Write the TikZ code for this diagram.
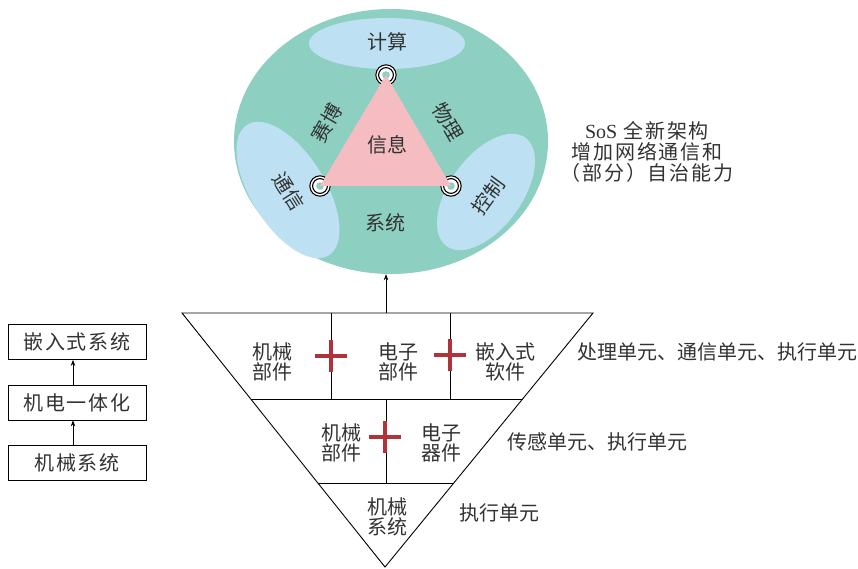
\documentclass[tikz,border=0pt]{standalone}
\usepackage{fontspec}
\setmainfont{Noto Sans CJK SC}
\newfontfamily\latinserif{Liberation Serif}
\usetikzlibrary{arrows.meta,calc,shapes.geometric}
\definecolor{tealA}{RGB}{141,208,194}
\definecolor{lblue}{RGB}{189,225,243}
\definecolor{pinkA}{RGB}{245,188,193}
\definecolor{crossred}{RGB}{176,50,58}
\definecolor{txt}{RGB}{50,50,50}
\tikzset{
  lbl/.style={font=\fontsize{20}{20.5}\selectfont, text=txt, inner sep=0pt, align=center},
  rlbl/.style={lbl, anchor=west},
  boxA/.style={draw, line width=0.8pt, minimum width=138pt, minimum height=35pt, font=\fontsize{20}{20.5}\selectfont\addfontfeature{LetterSpace=8}, text=txt, inner sep=0pt},
  arr/.style={line width=0.7pt, -{Stealth[length=6pt,width=4.5pt]}},
  edge/.style={line width=0.9pt},
  crossbar/.style={crossred, line width=4pt},
  ring/.style={line width=1.1pt}
}
\newcommand{\redcross}[1]{\draw[crossbar] ($(#1)+(-16,0)$) -- ($(#1)+(16,0)$) ($(#1)+(0,-16)$) -- ($(#1)+(0,16)$);}
\newcommand{\vmarker}[1]{%
  \fill[white] (#1) circle (11pt);
  \draw[ring] (#1) circle (10.2pt);
  \draw[ring] (#1) circle (7.4pt);
  \fill[tealA] (#1) circle (3.8pt);}
\begin{document}
\begin{tikzpicture}[x=1pt,y=-1pt]
\useasboundingbox (0,0) rectangle (858,569);
% ---- big ellipse ----
\node[ellipse, fill=tealA, minimum width=314pt, minimum height=265pt, inner sep=0pt] (sys) at (391,141.5) {};
\node[ellipse, fill=lblue, minimum width=156pt, minimum height=51pt, inner sep=0pt] (calcE) at (387,43.5) {};
\node[ellipse, fill=lblue, minimum width=74pt, minimum height=154pt, inner sep=0pt, rotate=32] (commE) at (288,190) {};
\node[ellipse, fill=lblue, minimum width=72pt, minimum height=134pt, inner sep=0pt, rotate=-36] (ctrlE) at (486,192) {};
% vertices
\coordinate (vt) at (386,75);
\coordinate (vl) at (320,186);
\coordinate (vr) at (451,186);
\vmarker{vt}
\vmarker{vl}
\vmarker{vr}
\fill[pinkA] (vt) -- (vl) -- (vr) -- cycle;
% labels in ellipse
\node[lbl] (tcalc) at (387,42) {计算};
\node[lbl] (tinfo) at (387,145) {信息};
\node[lbl] (tsys) at (385,223) {系统};
\node[lbl, rotate=60] (tcyber) at (327,123) {赛博};
\node[lbl, rotate=-60] (tphys) at (448,122) {物理};
\node[lbl, rotate=-58] (tcomm) at (289,191) {通信};
\node[lbl, rotate=54] (tctrl) at (488,196) {控制};
% SoS label
\node[lbl, font=\fontsize{20}{21}\selectfont\addfontfeature{LetterSpace=9}] (sos) at (647,152) {{\latinserif SoS} 全新架构\\增加网络通信和\\（部分）自治能力};
% ---- inverted triangle ----
\coordinate (T1) at (182,313);
\coordinate (T2) at (593,313);
\coordinate (T3) at (385,567);
\coordinate (invtop) at (386,313);
\coordinate (L2a) at ($(T1)!0.3386!(T3)$);
\coordinate (L2b) at ($(T2)!0.3386!(T3)$);
\coordinate (L3a) at ($(T1)!0.6705!(T3)$);
\coordinate (L3b) at ($(T2)!0.6705!(T3)$);
\draw[edge, line join=miter] (T1) -- (T2) -- (T3) -- cycle;
\draw[edge] (L2a) -- (L2b);
\draw[edge] (L3a) -- (L3b);
\draw[edge] (331,313) -- (331,399);
\draw[edge] (450,313) -- (450,399);
\draw[edge] (386,399) -- (386,483);
\redcross{331,356}
\redcross{450,355}
\redcross{385,437}
\node[lbl] (a1) at (272,362) {机械\\部件};
\node[lbl] (a2) at (398,362) {电子\\部件};
\node[lbl] (a3) at (505,362) {嵌入式\\软件};
\node[lbl] (b1) at (341,443) {机械\\部件};
\node[lbl] (b2) at (441,443) {电子\\器件};
\node[lbl] (c1) at (387,517) {机械\\系统};
\node[rlbl] (r1) at (577,352) {处理单元、通信单元、执行单元};
\node[rlbl] (r2) at (507,442) {传感单元、执行单元};
\node[rlbl] (r3) at (459,513) {执行单元};
\draw[arr] (invtop) -- (invtop |- sys.south);
% ---- left column ----
\node[boxA] (k1) at (77,342) {嵌入式系统};
\node[boxA] (k2) at (77,402.5) {机电一体化};
\node[boxA] (k3) at (77,462.5) {机械系统};
\draw[arr] ([xshift=-4pt]k3.north) -- ([xshift=-4pt]k2.south);
\draw[arr] ([xshift=-4pt]k2.north) -- ([xshift=-4pt]k1.south);
\end{tikzpicture}
\end{document}
